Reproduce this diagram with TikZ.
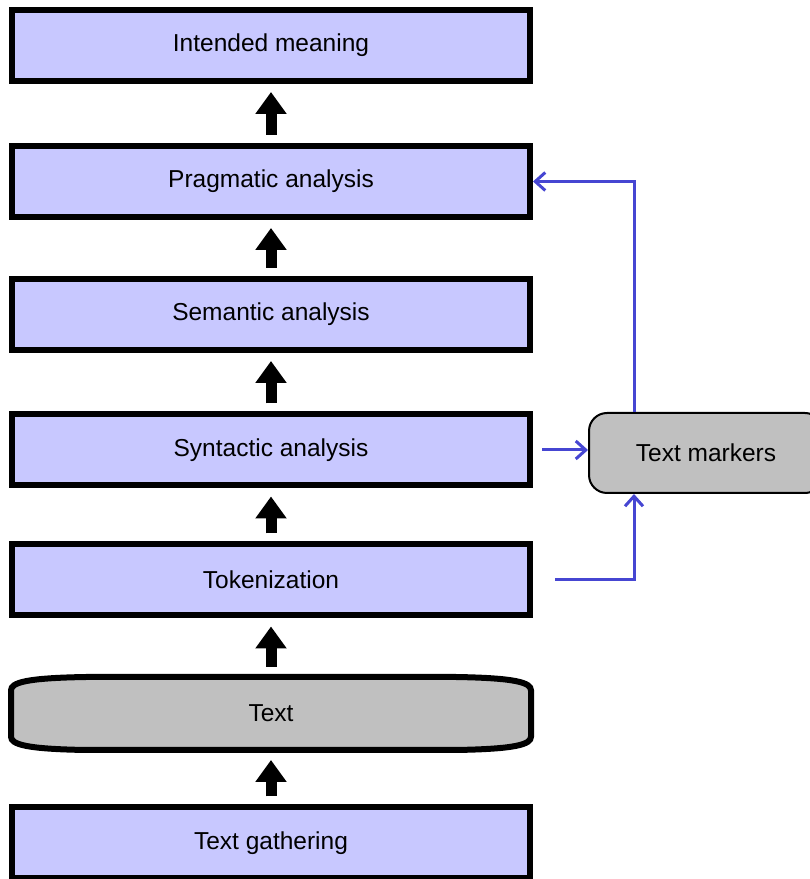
\documentclass[tikz,border=0pt]{standalone}
\usepackage{fontspec}
\setmainfont{Liberation Sans}
\usetikzlibrary{arrows.meta}

\definecolor{stagefill}{RGB}{200,200,255}
\definecolor{datafill}{RGB}{192,192,192}
\definecolor{linkblue}{RGB}{70,70,210}

\tikzset{
  stage/.style={draw=black,fill=stagefill,line width=6pt,
    minimum width=518pt,minimum height=71pt,inner sep=0pt,
    font=\fontsize{24.5}{28}\selectfont},
  up/.style={line width=11pt,-{Triangle[length=22pt,width=30pt]},
    shorten <=8pt,shorten >=8pt},
  link/.style={draw=linkblue,line width=3pt,
    -{Straight Barb[length=10pt,width=18pt,line width=3pt]}}
}

\begin{document}
\begin{tikzpicture}[x=1pt,y=1pt]
    \useasboundingbox (0,0) rectangle (810,879);

    % processing stages, bottom to top
    \node[stage] (gather) at (271,36) {Text gathering};
    \begin{scope}[shift={(271,165.5)}]
      \path[draw=black,fill=datafill,line width=6pt]
        (-260,-23) -- (-260,23) .. controls (-260,31) and (-245,35.5) .. (-185,36.5)
        -- (185,36.5) .. controls (245,35.5) and (260,31) .. (260,23)
        -- (260,-23) .. controls (260,-31) and (245,-35.5) .. (185,-36.5)
        -- (-185,-36.5) .. controls (-245,-35.5) and (-260,-31) .. (-260,-23) -- cycle;
    \end{scope}
    \node[stage,draw=none,fill=none] (txt) at (271,165.5) {Text};
    \node[stage] (tok) at (271,299) {Tokenization};
    \node[stage] (syn) at (271,429) {Syntactic analysis};
    \node[stage] (sem) at (271,564.5) {Semantic analysis};
    \node[stage] (prag) at (271,697.5) {Pragmatic analysis};
    \node[stage] (goal) at (271,833.5) {Intended meaning};

    % side store
    \node[draw=black,fill=datafill,line width=2pt,rounded corners=18pt,
      minimum width=234pt,minimum height=80pt,
      font=\fontsize{24.5}{28}\selectfont] (mark) at (706,426) {Text markers};

    \draw[up] (gather) -- (txt);
    \draw[up] (txt) -- (tok);
    \draw[up] (tok) -- (syn);
    \draw[up] (syn) -- (sem);
    \draw[up] (sem) -- (prag);
    \draw[up] (prag) -- (goal);

    \draw[link] ([xshift=9pt]syn.east) -- (syn.east -| mark.west);
    \draw[link] ([xshift=22pt]tok.east) -| ([xshift=-72pt]mark.south);
    \draw[link] ([xshift=-72pt]mark.north) |- (prag.east);
  \end{tikzpicture}
\end{document}
